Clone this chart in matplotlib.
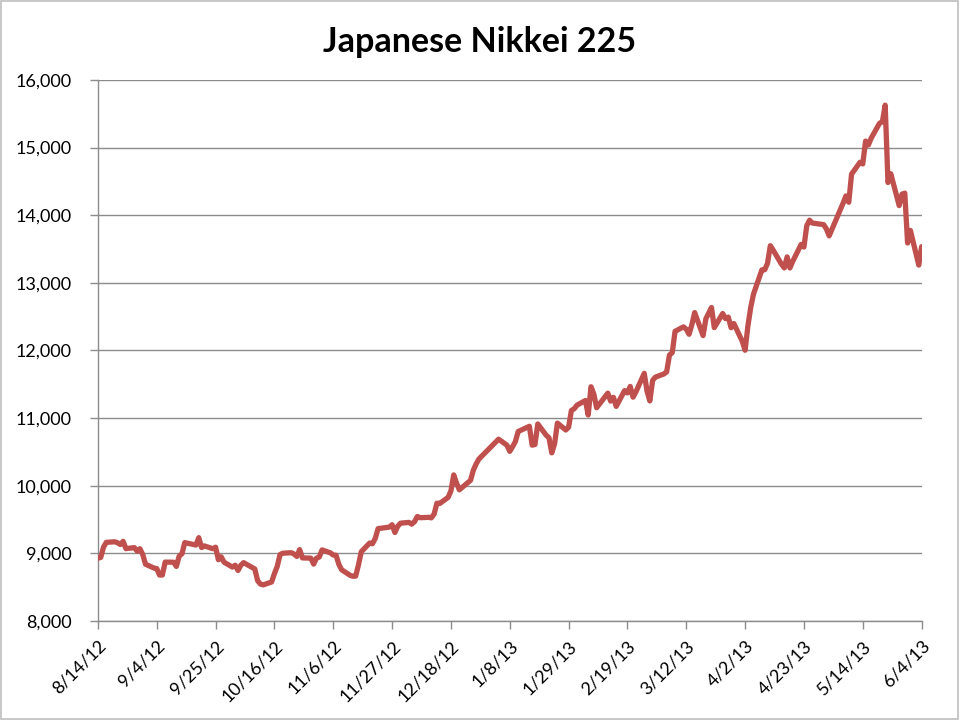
# Japanese Nikkei 225 - line chart
# -----------------------------------------------------------------------------

import datetime as dt
import matplotlib.pyplot as plt
from matplotlib.ticker import FuncFormatter
from matplotlib.patches import Rectangle

# Data (closing values)
# -----------------------------------------------------------------------------

dates_str = [
    "2012-08-14", "2012-08-15", "2012-08-16", "2012-08-17", "2012-08-20",
    "2012-08-21", "2012-08-22", "2012-08-23", "2012-08-24", "2012-08-27",
    "2012-08-28", "2012-08-29", "2012-08-30", "2012-08-31", "2012-09-03",
    "2012-09-04", "2012-09-05", "2012-09-06", "2012-09-07", "2012-09-10",
    "2012-09-11", "2012-09-12", "2012-09-13", "2012-09-14", "2012-09-18",
    "2012-09-19", "2012-09-20", "2012-09-21", "2012-09-24", "2012-09-25",
    "2012-09-26", "2012-09-27", "2012-09-28", "2012-10-01", "2012-10-02",
    "2012-10-03", "2012-10-04", "2012-10-05", "2012-10-09", "2012-10-10",
    "2012-10-11", "2012-10-12", "2012-10-15", "2012-10-16", "2012-10-17",
    "2012-10-18", "2012-10-19", "2012-10-22", "2012-10-23", "2012-10-24",
    "2012-10-25", "2012-10-26", "2012-10-29", "2012-10-30", "2012-10-31",
    "2012-11-01", "2012-11-02", "2012-11-05", "2012-11-06", "2012-11-07",
    "2012-11-08", "2012-11-09", "2012-11-12", "2012-11-13", "2012-11-14",
    "2012-11-15", "2012-11-16", "2012-11-19", "2012-11-20", "2012-11-21",
    "2012-11-22", "2012-11-26", "2012-11-27", "2012-11-28", "2012-11-29",
    "2012-11-30", "2012-12-03", "2012-12-04", "2012-12-05", "2012-12-06",
    "2012-12-07", "2012-12-10", "2012-12-11", "2012-12-12", "2012-12-13",
    "2012-12-14", "2012-12-17", "2012-12-18", "2012-12-19", "2012-12-20",
    "2012-12-21", "2012-12-25", "2012-12-26", "2012-12-27", "2012-12-28",
    "2013-01-04", "2013-01-07", "2013-01-08", "2013-01-09", "2013-01-10",
    "2013-01-11", "2013-01-15", "2013-01-16", "2013-01-17", "2013-01-18",
    "2013-01-21", "2013-01-22", "2013-01-23", "2013-01-24", "2013-01-25",
    "2013-01-28", "2013-01-29", "2013-01-30", "2013-01-31", "2013-02-01",
    "2013-02-04", "2013-02-05", "2013-02-06", "2013-02-07", "2013-02-08",
    "2013-02-12", "2013-02-13", "2013-02-14", "2013-02-15", "2013-02-18",
    "2013-02-19", "2013-02-20", "2013-02-21", "2013-02-22", "2013-02-25",
    "2013-02-26", "2013-02-27", "2013-02-28", "2013-03-01", "2013-03-04",
    "2013-03-05", "2013-03-06", "2013-03-07", "2013-03-08", "2013-03-11",
    "2013-03-12", "2013-03-13", "2013-03-14", "2013-03-15", "2013-03-18",
    "2013-03-19", "2013-03-21", "2013-03-22", "2013-03-25", "2013-03-26",
    "2013-03-27", "2013-03-28", "2013-03-29", "2013-04-01", "2013-04-02",
    "2013-04-03", "2013-04-04", "2013-04-05", "2013-04-08", "2013-04-09",
    "2013-04-10", "2013-04-11", "2013-04-12", "2013-04-15", "2013-04-16",
    "2013-04-17", "2013-04-18", "2013-04-19", "2013-04-22", "2013-04-23",
    "2013-04-24", "2013-04-25", "2013-04-26", "2013-04-30", "2013-05-01",
    "2013-05-02", "2013-05-07", "2013-05-08", "2013-05-09", "2013-05-10",
    "2013-05-13", "2013-05-14", "2013-05-15", "2013-05-16", "2013-05-17",
    "2013-05-20", "2013-05-21", "2013-05-22", "2013-05-23", "2013-05-24",
    "2013-05-27", "2013-05-28", "2013-05-29", "2013-05-30", "2013-05-31",
    "2013-06-03", "2013-06-04",
]

nikkei = [
    8929, 8940, 9092, 9163, 9171,
    9157, 9131, 9178, 9070, 9085,
    9033, 9068, 8983, 8839, 8783,
    8775, 8679, 8680, 8871, 8869,
    8807, 8959, 8995, 9159, 9123,
    9232, 9086, 9110, 9069, 9091,
    8906, 8949, 8870, 8797, 8824,
    8747, 8824, 8863, 8769, 8596,
    8546, 8534, 8577, 8701, 8807,
    8982, 9002, 9010, 8990, 8955,
    9055, 8933, 8929, 8841, 8928,
    8946, 9051, 9007, 8975, 8972,
    8837, 8757, 8676, 8661, 8664,
    8829, 9024, 9153, 9142, 9222,
    9366, 9388, 9423, 9308, 9400,
    9446, 9458, 9432, 9468, 9545,
    9527, 9533, 9525, 9581, 9742,
    9737, 9828, 9923, 10160, 10039,
    9940, 10080, 10230, 10322, 10395,
    10688, 10599, 10508, 10578, 10652,
    10801, 10879, 10600, 10609, 10913,
    10747, 10709, 10486, 10620, 10926,
    10824, 10866, 11113, 11138, 11191,
    11260, 11046, 11463, 11357, 11153,
    11369, 11251, 11307, 11173, 11407,
    11372, 11468, 11309, 11385, 11662,
    11398, 11254, 11559, 11606, 11652,
    11683, 11932, 11968, 12283, 12349,
    12314, 12239, 12381, 12560, 12220,
    12468, 12635, 12338, 12546, 12471,
    12493, 12336, 12398, 12135, 12003,
    12362, 12634, 12833, 13192, 13193,
    13288, 13549, 13485, 13275, 13221,
    13383, 13220, 13317, 13568, 13529,
    13843, 13926, 13884, 13861, 13799,
    13694, 14180, 14285, 14191, 14607,
    14782, 14758, 15096, 15038, 15138,
    15360, 15381, 15627, 14483, 14612,
    14142, 14311, 14326, 13589, 13775,
    13262, 13534,
]

y_ticks = [8000, 9000, 10000, 11000, 12000, 13000, 14000, 15000, 16000]
x_start = dt.date(2012, 8, 14)
x_end = dt.date(2013, 6, 4)
chart_title = "Japanese Nikkei 225"

# Plot
# -----------------------------------------------------------------------------

dates = [dt.datetime.strptime(d, "%Y-%m-%d") for d in dates_str]

plt.rcParams['font.family'] = ['Lato', 'DejaVu Sans']

fig = plt.figure(figsize=(9.6, 7.2), dpi=100)
ax = fig.add_axes([0.102, 0.1375, 0.858, 0.7515])

ax.plot(dates, nikkei, color="#C0504D", linewidth=3.8,
        solid_joinstyle="round", solid_capstyle="round", zorder=3)

ax.set_xlim(x_start, x_end)
ax.set_ylim(y_ticks[0], y_ticks[-1])
ax.set_yticks(y_ticks)
ax.yaxis.set_major_formatter(FuncFormatter(lambda v, p: f"{int(v):,}"))

# x ticks every 3 weeks, like the Excel date axis
x_ticks = []
d = x_start
while d <= x_end:
    x_ticks.append(d)
    d = d + dt.timedelta(days=21)
ax.set_xticks(x_ticks)
ax.set_xticklabels([f"{t.month}/{t.day}/{t.strftime('%y')}" for t in x_ticks],
                   rotation=45, ha="right", rotation_mode="anchor")

ax.grid(axis="y", color="#8C8C8C", linewidth=1.0, zorder=0)
ax.grid(axis="x", visible=False)
for side in ["top", "right"]:
    ax.spines[side].set_visible(False)
for side in ["left", "bottom"]:
    ax.spines[side].set_color("#8C8C8C")
    ax.spines[side].set_linewidth(1.0)
ax.tick_params(axis="both", colors="#8C8C8C", length=6, width=1,
               labelcolor="black", labelsize=13)
ax.tick_params(axis="y", pad=13)
ax.tick_params(axis="x", pad=6)

fig.text(0.5, 1 - 42 / 720, chart_title, ha="center", va="center",
         fontsize=24.5, fontweight="bold")

# light border round the chart area
fig.patches.append(Rectangle((0.001, 0.002), 0.997, 0.996, transform=fig.transFigure,
                             fill=False, edgecolor="#BFBFBF", linewidth=1.2))

fig.savefig("out.png", dpi=100)
